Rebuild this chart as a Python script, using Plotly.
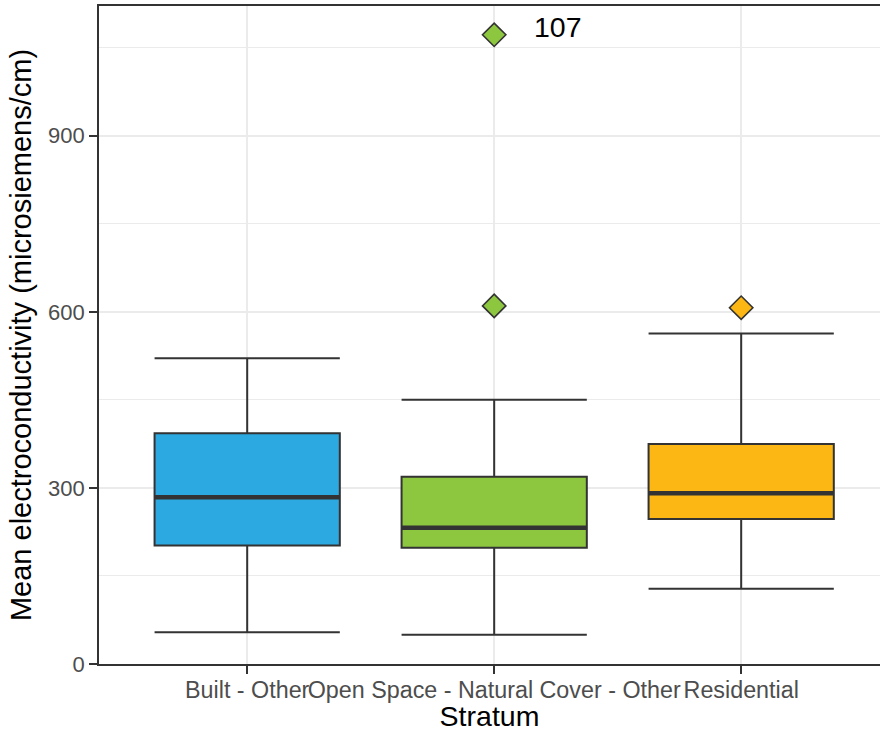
import plotly.graph_objects as go

# Summary statistics per stratum (microsiemens/cm)
strata = ["Built - Other", "Open Space - Natural Cover - Other", "Residential"]
positions = [1, 2, 3]
lower_whisker = [54, 50, 128]
q1 = [202, 198, 247]
median = [284, 232, 291]
q3 = [393, 319, 375]
upper_whisker = [521, 450, 563]
fills = ["#2CA9E1", "#8DC63F", "#FDB714"]

# Outlying sites
outlier_stratum = [2, 2, 3]
outlier_value = [610, 1072, 607]
outlier_fill = ["#8DC63F", "#8DC63F", "#FDB714"]
label_text = "107"
label_point = 1  # index into the outlier lists

y_ticks = [0, 300, 600, 900]
y_minor = [150, 450, 750, 1050]

box_width = 0.75
edge = "#333333"
font = "Liberation Sans, Arial, sans-serif"

fig = go.Figure()

for i in range(len(strata)):
    fig.add_trace(go.Box(
        x=[positions[i]],
        q1=[q1[i]], median=[median[i]], q3=[q3[i]],
        lowerfence=[lower_whisker[i]], upperfence=[upper_whisker[i]],
        width=box_width, whiskerwidth=1,
        fillcolor=fills[i],
        line=dict(color=edge, width=2),
        boxpoints=False, showlegend=False, hoverinfo="skip",
    ))
    # heavier median bar
    fig.add_trace(go.Scatter(
        x=[positions[i] - box_width / 2, positions[i] + box_width / 2],
        y=[median[i], median[i]],
        mode="lines", line=dict(color=edge, width=4.5),
        showlegend=False, hoverinfo="skip",
    ))

fig.add_trace(go.Scatter(
    x=outlier_stratum, y=outlier_value, mode="markers",
    marker=dict(symbol="diamond", size=18, color=outlier_fill,
                line=dict(color=edge, width=1.6)),
    showlegend=False, hoverinfo="skip",
))

fig.add_annotation(
    x=outlier_stratum[label_point] + 0.26, y=outlier_value[label_point] + 13,
    text=label_text, showarrow=False, xanchor="center", yanchor="middle",
    font=dict(family=font, size=28.5, color="black"),
)

fig.update_layout(
    width=880, height=732,
    margin=dict(l=99, r=0, t=6, b=68),
    paper_bgcolor="white", plot_bgcolor="white",
    font=dict(family=font),
)

fig.update_xaxes(
    range=[0.4, 3.562],
    tickmode="array", tickvals=positions, ticktext=strata, tickangle=0,
    tickfont=dict(size=23.3, color="#4D4D4D"), ticklabelstandoff=-4,
    ticks="outside", ticklen=8, tickwidth=1.6, tickcolor=edge,
    showgrid=True, gridcolor="#EBEBEB", gridwidth=2,
    showline=True, mirror=True, linecolor=edge, linewidth=1.8,
    zeroline=False,
    title=dict(text="Stratum", font=dict(size=28.5, color="black"), standoff=4),
)

fig.update_yaxes(
    range=[0, 1121],
    tickmode="array", tickvals=y_ticks,
    tickfont=dict(size=22, color="#4D4D4D"),
    ticks="outside", ticklen=8, tickwidth=1.6, tickcolor=edge,
    showgrid=True, gridcolor="#EBEBEB", gridwidth=2,
    minor=dict(tickvals=y_minor, showgrid=True, gridcolor="#EBEBEB",
               gridwidth=1, ticklen=0),
    showline=True, mirror=False, linecolor=edge, linewidth=1.8,
    zeroline=False,
    title=dict(text="Mean electroconductivity (microsiemens/cm)",
               font=dict(size=29, color="black"), standoff=8),
)

fig.write_html("out.html")
